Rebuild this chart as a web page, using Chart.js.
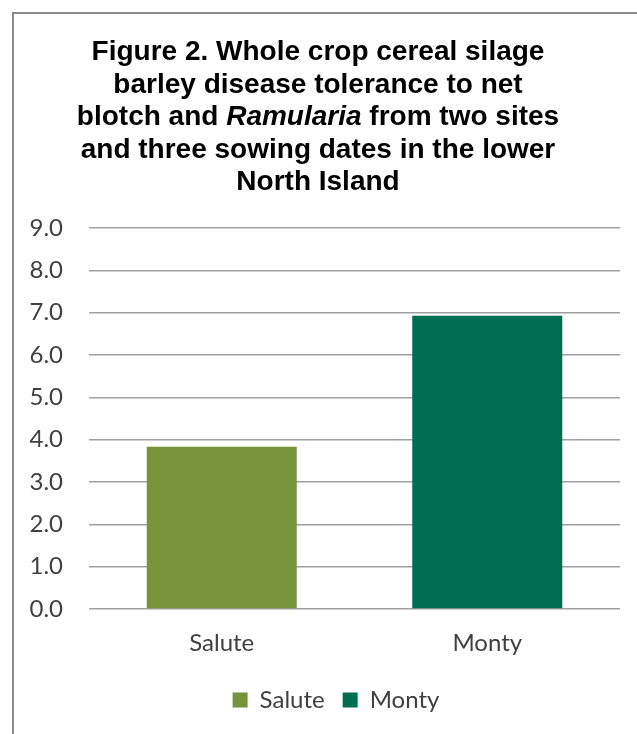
<!DOCTYPE html>
<html><head><meta charset="utf-8">
<script src="https://cdn.jsdelivr.net/npm/chart.js@4.4.0/dist/chart.umd.min.js"></script>
<style>
html,body{margin:0;padding:0;background:#fff;overflow:hidden;width:637px;height:734px}
#frame{position:absolute;left:12px;top:12px;width:700px;height:800px;border-left:2px solid #8c8c8c;border-top:2px solid #8c8c8c;box-sizing:border-box}
#wrap{position:absolute;left:0;top:0;width:637px;height:734px}
</style></head><body>
<div id="frame"></div>
<div id="wrap"><canvas id="c" width="637" height="734"></canvas></div>
<script>
const categories = ['Salute', 'Monty'];
const values = [3.83, 6.93];
const barColors = ['#77933C', '#006E51'];
const yMin = 0, yMax = 9, yStep = 1;
const titleLines = [
  [['Figure 2. Whole crop cereal silage', false]],
  [['barley disease tolerance to net', false]],
  [['blotch and ', false], ['Ramularia', true], [' from two sites', false]],
  [['and three sowing dates in the lower', false]],
  [['North Island', false]]
];

const titlePlugin = {
  id: 'richTitle',
  afterDraw(chart) {
    const ctx = chart.ctx;
    ctx.save();
    ctx.fillStyle = '#000';
    ctx.textBaseline = 'alphabetic';
    ctx.textAlign = 'left';
    const size = 28, cx = 318, firstBase = 60, lh = 32.5;
    titleLines.forEach((segs, i) => {
      let total = 0;
      const widths = segs.map(([t, it]) => {
        ctx.font = (it ? 'italic ' : '') + 'bold ' + size + 'px "Liberation Sans", Arial, sans-serif';
        const w = ctx.measureText(t).width; total += w; return w;
      });
      let x = cx - total / 2;
      segs.forEach(([t, it], k) => {
        ctx.font = (it ? 'italic ' : '') + 'bold ' + size + 'px "Liberation Sans", Arial, sans-serif';
        ctx.fillText(t, x, firstBase + i * lh);
        x += widths[k];
      });
    });
    ctx.restore();
  }
};

const legendShift = {
  id: 'legendShift',
  afterLayout(chart) {
    if (chart.legend) { chart.legend.left += 26; chart.legend.right += 26; }
  }
};

const datasets = categories.map((name, i) => ({
  label: name,
  data: values.map((v, j) => (j === i ? v : null)),
  backgroundColor: barColors[i],
  borderWidth: 0,
  skipNull: true,
  categoryPercentage: 0.565,
  barPercentage: 1.0
}));

const tickFont = { family: 'Lato', size: 24 };

new Chart(document.getElementById('c'), {
  type: 'bar',
  data: { labels: categories, datasets },
  options: {
    responsive: false,
    animation: false,
    devicePixelRatio: 1,
    layout: { padding: { top: 228, right: 17, left: 0, bottom: 12 } },
    plugins: {
      title: { display: false },
      tooltip: { enabled: false },
      legend: {
        position: 'bottom',
        labels: { boxWidth: 15, boxHeight: 15, font: tickFont, color: '#404040', padding: 18 }
      }
    },
    scales: {
      y: {
        min: yMin, max: yMax,
        ticks: { stepSize: yStep, callback: v => Number(v).toFixed(1), font: tickFont, color: '#404040', padding: 26 },
        grid: { color: '#a0a0a0', lineWidth: 1.5, drawTicks: false },
        border: { display: false },
        afterFit: s => { s.width = 89; }
      },
      x: {
        ticks: { font: tickFont, color: '#404040', padding: 20 },
        grid: { display: false, drawTicks: false },
        border: { display: false },
        afterFit: s => { s.height = 61; }
      }
    }
  },
  plugins: [titlePlugin, legendShift]
});
</script>
</body></html>
